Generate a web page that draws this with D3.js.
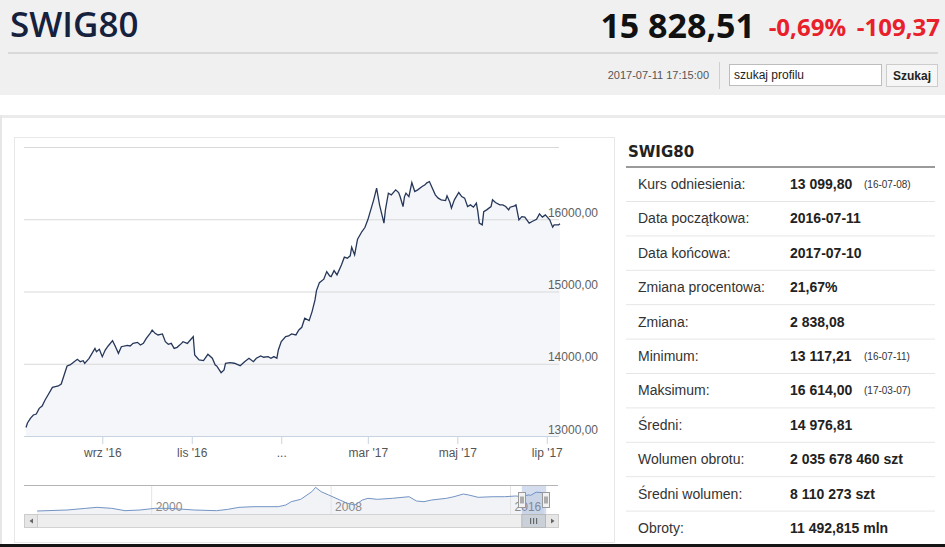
<!DOCTYPE html>
<html>
<head>
<meta charset="utf-8">
<script src="https://cdn.jsdelivr.net/npm/d3@7"></script>
<style>
  body { margin: 0; background: #fff; }
  svg { display: block; font-family: "Liberation Sans", Arial, sans-serif; }
</style>
</head>
<body>
<svg id="page" width="945" height="547"></svg>
<script>
// DATA

// daily close, one year (2016-07-11 .. 2017-07-10)
const closes = [
  ["2016-07-11",13117],["2016-07-12",13180],["2016-07-14",13245],["2016-07-16",13291],["2016-07-18",13304],
  ["2016-07-20",13383],["2016-07-22",13415],["2016-07-24",13498],["2016-07-26",13567],["2016-07-29",13674],
  ["2016-07-31",13683],["2016-08-02",13692],["2016-08-04",13720],["2016-08-06",13844],["2016-08-08",13969],
  ["2016-08-10",13983],["2016-08-12",14015],["2016-08-15",14061],["2016-08-17",14029],["2016-08-19",14042],
  ["2016-08-20",14006],["2016-08-23",14075],["2016-08-25",14144],["2016-08-27",14213],["2016-08-28",14167],
  ["2016-08-30",14200],["2016-09-01",14098],["2016-09-03",14190],["2016-09-05",14246],["2016-09-08",14319],
  ["2016-09-10",14236],["2016-09-12",14144],["2016-09-14",14236],["2016-09-18",14255],["2016-09-20",14246],
  ["2016-09-22",14282],["2016-09-25",14296],["2016-09-27",14259],["2016-09-29",14282],["2016-10-01",14352],
  ["2016-10-04",14430],["2016-10-05",14467],["2016-10-07",14421],["2016-10-09",14398],["2016-10-12",14412],
  ["2016-10-14",14305],["2016-10-16",14269],["2016-10-18",14282],["2016-10-20",14213],["2016-10-22",14227],
  ["2016-10-25",14282],["2016-10-26",14305],["2016-10-29",14282],["2016-10-31",14329],["2016-11-02",14375],
  ["2016-11-03",14122],["2016-11-06",14052],["2016-11-09",14043],["2016-11-12",14131],["2016-11-15",14076],
  ["2016-11-17",13983],["2016-11-18",13970],["2016-11-21",13877],["2016-11-23",13914],["2016-11-24",14007],
  ["2016-11-27",14015],["2016-11-30",14007],["2016-12-04",13974],["2016-12-07",14029],["2016-12-10",14076],
  ["2016-12-13",14029],["2016-12-15",14076],["2016-12-18",14108],["2016-12-20",14090],["2016-12-23",14099],
  ["2016-12-25",14076],["2016-12-27",14099],["2016-12-29",14076],["2016-12-30",14191],["2017-01-01",14306],
  ["2017-01-04",14375],["2017-01-06",14385],["2017-01-08",14413],["2017-01-11",14399],["2017-01-13",14468],
  ["2017-01-15",14505],["2017-01-17",14630],["2017-01-20",14597],["2017-01-22",14722],["2017-01-24",14884],
  ["2017-01-25",15013],["2017-01-27",15123],["2017-01-30",15170],["2017-02-01",15276],["2017-02-03",15216],
  ["2017-02-04",15206],["2017-02-06",15289],["2017-02-08",15230],["2017-02-11",15368],["2017-02-13",15475],
  ["2017-02-15",15461],["2017-02-17",15493],["2017-02-18",15613],["2017-02-20",15507],["2017-02-22",15725],
  ["2017-02-25",15830],["2017-02-27",15885],["2017-03-01",15992],["2017-03-03",16130],["2017-03-05",16269],
  ["2017-03-07",16430],["2017-03-09",16199],["2017-03-12",15946],["2017-03-13",16130],["2017-03-15",16361],
  ["2017-03-17",16338],["2017-03-20",16407],["2017-03-22",16370],["2017-03-23",16314],["2017-03-25",16176],
  ["2017-03-26",16314],["2017-03-27",16361],["2017-03-29",16314],["2017-03-31",16508],["2017-04-02",16384],
  ["2017-04-04",16407],["2017-04-07",16453],["2017-04-09",16476],["2017-04-10",16500],["2017-04-12",16522],
  ["2017-04-14",16430],["2017-04-16",16338],["2017-04-18",16292],["2017-04-20",16269],["2017-04-23",16259],
  ["2017-04-24",16324],["2017-04-26",16231],["2017-04-27",16154],["2017-04-29",16269],["2017-05-02",16370],
  ["2017-05-04",16314],["2017-05-06",16292],["2017-05-08",16176],["2017-05-10",16199],["2017-05-12",16167],
  ["2017-05-14",16222],["2017-05-15",16106],["2017-05-16",15946],["2017-05-18",15922],["2017-05-19",16106],
  ["2017-05-21",16130],["2017-05-24",16176],["2017-05-25",16269],["2017-05-27",16231],["2017-05-30",16199],
  ["2017-06-01",16199],["2017-06-03",16176],["2017-06-05",16130],["2017-06-06",16167],["2017-06-09",16185],
  ["2017-06-10",16199],["2017-06-12",15992],["2017-06-14",16037],["2017-06-16",16030],["2017-06-19",15946],
  ["2017-06-21",15969],["2017-06-24",16000],["2017-06-26",16075],["2017-06-28",16030],["2017-06-30",16060],
  ["2017-07-03",15992],["2017-07-05",15890],["2017-07-06",15922],["2017-07-09",15922],["2017-07-10",15938]
];

// long history for the navigator strip
const history = [
  ["1994-12",2250],["1996-04",3000],["1997-02",4260],["1997-08",5010],["1998-04",4260],["1998-11",2500],
  ["1999-07",3000],["2000-03",4260],["2000-11",4260],["2001-12",3000],["2002-12",2500],["2003-06",3500],
  ["2003-12",5010],["2004-08",5500],["2005-09",5500],["2006-01",6760],["2006-04",9260],["2006-09",11020],
  ["2007-03",16750],["2007-05",20050],["2007-08",16750],["2007-12",14270],["2008-06",10510],["2008-10",8030],
  ["2009-02",6760],["2009-06",10510],["2009-09",11790],["2010-02",11020],["2010-10",11790],["2011-07",13000],
  ["2011-11",9760],["2012-03",9260],["2012-07",10510],["2013-03",11790],["2013-07",13000],["2013-12",15020],
  ["2014-03",14270],["2014-08",12540],["2015-04",13000],["2015-10",13000],["2016-04",13520],["2016-07",13120],
  ["2016-11",14370],["2016-12",14000],["2017-03",16430],["2017-07",15940]
];

const yTicks = [13000, 14000, 15000, 16000, 17000];
const xTickDates = ["2016-09-01", "2016-11-01", "2017-01-01", "2017-03-01", "2017-05-01", "2017-07-01"];
const xTickLabels = ["wrz '16", "lis '16", "...", "mar '17", "maj '17", "lip '17"];
const navTickYears = ["2000", "2008", "2016"];

const statLabels = ["Kurs odniesienia:", "Data początkowa:", "Data końcowa:", "Zmiana procentowa:", "Zmiana:",
  "Minimum:", "Maksimum:", "Średni:", "Wolumen obrotu:", "Średni wolumen:", "Obroty:"];
const statValues = ["13 099,80", "2016-07-11", "2017-07-10", "21,67%", "2 838,08",
  "13 117,21", "16 614,00", "14 976,81", "2 035 678 460 szt", "8 110 273 szt", "11 492,815 mln"];
const statNotes = ["(16-07-08)", "", "", "", "", "(16-07-11)", "(17-03-07)", "", "", "", ""];

// SETUP
const parseDay = d3.timeParse("%Y-%m-%d");
const parseMonth = d3.timeParse("%Y-%m");
const parseYear = d3.timeParse("%Y");
const pl = d3.formatLocale({decimal: ",", thousands: "", grouping: [3], currency: ["", ""]});
const fmt = pl.format(".2f");

const series = closes.map(d => ({date: parseDay(d[0]), value: d[1]}));
const navSeries = history.map(d => ({date: parseMonth(d[0]), value: d[1]}));

const plot = {left: 24, right: 559, top: 147, bottom: 436};
const nav = {left: 24, right: 558, top: 485, bottom: 514};

const svg = d3.select("#page");

// HEADER
svg.append("rect").attr("width", 945).attr("height", 95).attr("fill", "#f0f0f0");
svg.append("text").attr("x", 10).attr("y", 37)
  .style("font-family", "'Open Sans', sans-serif").style("font-weight", 600).style("font-size", "35px")
  .attr("fill", "#15213d").text("SWIG80");
svg.append("text").attr("x", 755).attr("y", 38).attr("text-anchor", "end")
  .style("font-family", "'Open Sans', sans-serif").style("font-weight", 700).style("font-size", "34px")
  .attr("fill", "#111").text("15 828,51");
svg.append("text").attr("x", 846).attr("y", 36).attr("text-anchor", "end")
  .style("font-family", "'Open Sans', sans-serif").style("font-weight", 700).style("font-size", "24px")
  .attr("fill", "#e8202a").text("-0,69%");
svg.append("text").attr("x", 940).attr("y", 36).attr("text-anchor", "end")
  .style("font-family", "'Open Sans', sans-serif").style("font-weight", 700).style("font-size", "24px")
  .attr("fill", "#e8202a").text("-109,37");
svg.append("rect").attr("x", 8).attr("y", 52).attr("width", 930).attr("height", 2).attr("fill", "#d9d9d9");

svg.append("text").attr("x", 709).attr("y", 79).attr("text-anchor", "end")
  .style("font-size", "11px").attr("fill", "#555").text("2017-07-11 17:15:00");
svg.append("line").attr("x1", 719.5).attr("x2", 719.5).attr("y1", 62).attr("y2", 89).attr("stroke", "#cfcfcf");
svg.append("rect").attr("x", 729.5).attr("y", 64.5).attr("width", 152).attr("height", 21)
  .attr("fill", "#fff").attr("stroke", "#bdbdbd");
svg.append("text").attr("x", 734).attr("y", 79).style("font-size", "12px").attr("fill", "#222").text("szukaj profilu");
svg.append("rect").attr("x", 886.5).attr("y", 64.5).attr("width", 51).attr("height", 22)
  .attr("fill", "#f6f6f6").attr("stroke", "#cccccc");
svg.append("text").attr("x", 912).attr("y", 80).attr("text-anchor", "middle")
  .style("font-size", "12px").style("font-weight", "bold").attr("fill", "#222").text("Szukaj");

// page frame
svg.append("rect").attr("x", 0).attr("y", 115).attr("width", 945).attr("height", 3).attr("fill", "#ebebeb");
svg.append("rect").attr("x", 0).attr("y", 115).attr("width", 2).attr("height", 432).attr("fill", "#e6e6e6");
svg.append("rect").attr("x", 14.5).attr("y", 137.5).attr("width", 600).attr("height", 405)
  .attr("fill", "#fff").attr("stroke", "#e8e8e8");

// MAIN CHART
const x = d3.scaleTime()
  .domain([parseDay("2016-07-11"), parseDay("2017-07-10")])
  .range([26, 560]);
const y = d3.scaleLinear()
  .domain([13000, 17000])
  .range([plot.bottom, plot.top]);

const area = d3.area().x(d => x(d.date)).y0(plot.bottom).y1(d => y(d.value));
const line = d3.line().x(d => x(d.date)).y(d => y(d.value));

svg.append("path").datum(series).attr("d", area).attr("fill", "#f4f6f9");

const gy = svg.append("g")
  .attr("transform", `translate(${plot.left},0)`)
  .call(d3.axisRight(y).tickValues(yTicks).tickSize(plot.right - plot.left).tickFormat(fmt));
gy.select(".domain").remove();
gy.selectAll(".tick line").attr("stroke", "#d9d9d9");
gy.selectAll(".tick text")
  .attr("x", 574).attr("dy", -3).attr("text-anchor", "end")
  .attr("fill", "#606060").style("font-size", "12px")
  .filter(d => d === 17000).remove();

svg.append("path").datum(series).attr("d", line)
  .attr("fill", "none").attr("stroke", "#26375a").attr("stroke-width", 1.3);

const gx = svg.append("g")
  .attr("transform", `translate(0,${plot.bottom})`)
  .call(d3.axisBottom(x)
    .tickValues(xTickDates.map(parseDay))
    .tickFormat((d, i) => xTickLabels[i])
    .tickSize(8).tickSizeOuter(0).tickPadding(4));
gx.select(".domain").attr("d", `M${plot.left},0.5H${plot.right}`).attr("stroke", "#c7d3e1");
gx.selectAll(".tick line").attr("stroke", "#c7d3e1");
gx.selectAll(".tick text").attr("fill", "#555").style("font-size", "12px");

// NAVIGATOR
const xn = d3.scaleTime()
  .domain([parseDay("1994-05-01"), parseDay("2018-02-20")])
  .range([nav.left, nav.right]);
const yn = d3.scaleLinear().domain([0, 21800]).range([nav.bottom, nav.top]);

const navG = svg.append("g");
navG.append("path").datum(navSeries)
  .attr("d", d3.area().x(d => xn(d.date)).y0(nav.bottom).y1(d => yn(d.value)))
  .attr("fill", "#f1f3f6");

const gn = navG.append("g")
  .attr("transform", `translate(0,${nav.top})`)
  .call(d3.axisBottom(xn)
    .tickValues(navTickYears.map(parseYear))
    .tickFormat(d3.timeFormat("%Y"))
    .tickSize(nav.bottom - nav.top).tickSizeOuter(0).tickPadding(0));
gn.select(".domain").remove();
gn.selectAll(".tick line").attr("stroke", "#e4e4e4");
gn.selectAll(".tick text")
  .attr("x", 4).attr("y", 26).attr("dy", 0).attr("text-anchor", "start")
  .attr("fill", "#8a8a8a").style("font-size", "12px");

navG.append("path").datum(navSeries)
  .attr("d", d3.line().x(d => xn(d.date)).y(d => yn(d.value)))
  .attr("fill", "none").attr("stroke", "#7394c4").attr("stroke-width", 1);

navG.append("line").attr("x1", nav.left).attr("x2", nav.right)
  .attr("y1", nav.top + 0.5).attr("y2", nav.top + 0.5).attr("stroke", "#b5b5b8");

// selected window
const selX0 = xn(series[0].date), selX1 = xn(series[series.length - 1].date) + 2;
navG.append("rect").attr("x", selX0).attr("y", nav.top + 1).attr("width", selX1 - selX0)
  .attr("height", nav.bottom - nav.top - 1).attr("fill", "rgba(102,133,194,0.28)");
[selX0, selX1].forEach(hx => {
  const h = navG.append("g").attr("transform", `translate(${Math.round(hx) - 3.5},${nav.top + 7.5})`);
  h.append("rect").attr("width", 7).attr("height", 15).attr("fill", "#f2f2f2").attr("stroke", "#999");
  h.append("path").attr("d", "M2.5,4V11M4.5,4V11").attr("stroke", "#666");
});

// scrollbar
const sb = svg.append("g").attr("transform", `translate(0,${nav.bottom})`);
sb.append("rect").attr("x", nav.left + 0.5).attr("y", 0.5).attr("width", nav.right - nav.left).attr("height", 13)
  .attr("fill", "#eeeeee").attr("stroke", "#d3d3d3");
sb.append("rect").attr("x", nav.left + 0.5).attr("y", 0.5).attr("width", 13).attr("height", 13)
  .attr("fill", "#e6e6e6").attr("stroke", "#cccccc");
sb.append("path").attr("d", `M${nav.left + 9},4.5L${nav.left + 5.5},7L${nav.left + 9},9.5Z`).attr("fill", "#666");
sb.append("rect").attr("x", nav.right - 12.5).attr("y", 0.5).attr("width", 13).attr("height", 13)
  .attr("fill", "#e6e6e6").attr("stroke", "#cccccc");
sb.append("path").attr("d", `M${nav.right - 7},4.5L${nav.right - 3.5},7L${nav.right - 7},9.5Z`).attr("fill", "#666");
sb.append("rect").attr("x", selX0).attr("y", 0.5).attr("width", nav.right - 12.5 - selX0).attr("height", 13)
  .attr("fill", "#c9d0d8").attr("stroke", "#b8b8b8");
const gripX = (selX0 + nav.right - 12.5) / 2;
sb.append("path").attr("d", `M${gripX - 3},4V10M${gripX},4V10M${gripX + 3},4V10`).attr("stroke", "#555");

// STATS TABLE
svg.append("text").attr("x", 628).attr("y", 157)
  .style("font-family", "'DejaVu Sans', sans-serif").style("font-weight", "bold").style("font-size", "15px")
  .attr("fill", "#222").text("SWIG80");
svg.append("rect").attr("x", 626).attr("y", 166).attr("width", 309).attr("height", 2).attr("fill", "#9a9a9a");

const rowY = d3.scaleLinear().domain([0, 1]).range([184, 218.4]);
const rows = svg.append("g").selectAll("g")
  .data(statLabels.map((label, i) => ({label, value: statValues[i], note: statNotes[i], i})))
  .join("g")
  .attr("transform", d => `translate(0,${rowY(d.i)})`);
rows.append("line").attr("x1", 626).attr("x2", 935).attr("y1", 17.5).attr("y2", 17.5).attr("stroke", "#e6e6e6");
rows.append("text").attr("x", 638).attr("y", 5).style("font-size", "14px").attr("fill", "#333").text(d => d.label);
rows.append("text").attr("x", 790).attr("y", 5).style("font-size", "14px").style("font-weight", "bold")
  .attr("fill", "#222").text(d => d.value);
rows.append("text").attr("x", 864).attr("y", 4).style("font-size", "10px").attr("fill", "#333").text(d => d.note);

// bottom edge
svg.append("rect").attr("x", 0).attr("y", 544).attr("width", 945).attr("height", 3).attr("fill", "#151515");
</script>
</body>
</html>
